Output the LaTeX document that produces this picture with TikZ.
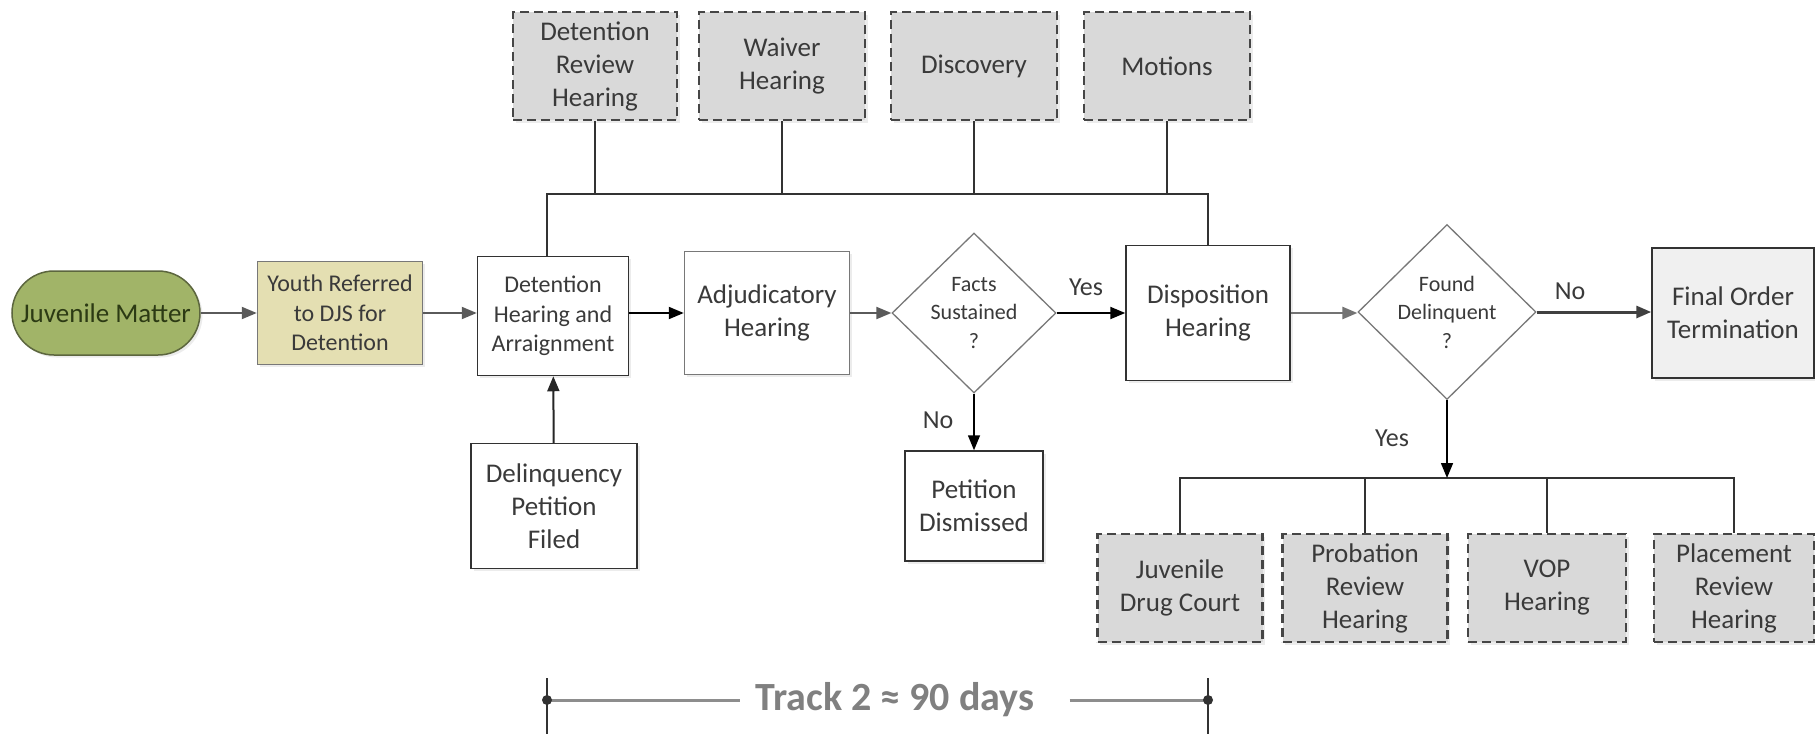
\documentclass[tikz,border=0pt]{standalone}
\usepackage{fontspec}
\setmainfont{Carlito}
\usepackage{tikz}
\usetikzlibrary{shapes.geometric}
\usetikzlibrary{arrows.meta}
\usetikzlibrary{shadows}

\definecolor{txtgray}{RGB}{58,58,58}
\definecolor{edgedark}{RGB}{50,50,50}
\definecolor{edgemid}{RGB}{120,120,120}
\definecolor{dashgray}{RGB}{70,70,70}
\definecolor{optfill}{RGB}{217,217,217}
\definecolor{finalfill}{RGB}{240,240,240}
\definecolor{youthfill}{RGB}{228,223,178}
\definecolor{juvfill}{RGB}{161,180,104}
\definecolor{juvedge}{RGB}{92,102,62}
\definecolor{juvtext}{RGB}{44,58,20}
\definecolor{arrowgray}{RGB}{90,90,90}
\definecolor{trackgray}{RGB}{128,128,128}

\tikzset{
	procbox/.style={draw=edgedark, line width=1.5pt, fill=white, text=txtgray, align=center, inner sep=0pt,
		font=\fontsize{27}{33}\selectfont, drop shadow={shadow xshift=2.5pt, shadow yshift=-2.5pt, opacity=.15}},
	optbox/.style={procbox, fill=optfill, draw=dashgray, line width=2.5pt, dash pattern=on 9pt off 5pt,
		minimum height=108pt},
	decbox/.style={draw=edgemid, line width=1.3pt, fill=white, diamond, inner sep=0pt},
	dectext/.style={text=txtgray, align=center, font=\fontsize{22}{28.5}\selectfont},
	flowarrow/.style={-{Triangle[length=15pt,width=12pt]}, line width=2pt, draw=arrowgray},
	busline/.style={line width=1.3pt, draw=edgedark},
	ansl/.style={text=txtgray, font=\fontsize{26}{30}\selectfont},
}

\begin{document}
\begin{tikzpicture}[x=1pt, y=-1pt]
				\useasboundingbox[fill=white] (0,0) rectangle (1815,734);
				% Main row:
				\node[procbox, fill=juvfill, draw=juvedge, text=juvtext, rounded corners=42pt,
					minimum width=188pt, minimum height=84pt] (juv) at (106,313) {Juvenile Matter};
				\node[procbox, fill=youthfill, draw=edgemid, minimum width=165pt, minimum height=103pt,
					font=\fontsize{24}{29.5}\selectfont] (youth) at (340,313) {Youth Referred\\to DJS for\\Detention};
				\node[procbox, minimum width=151pt, minimum height=119pt,
					font=\fontsize{24}{29.5}\selectfont] (det) at (553,316) {Detention\\Hearing and\\Arraignment};
				\node[procbox, draw=edgemid, minimum width=165pt, minimum height=123pt] (adj) at (767,313) {Adjudicatory\\Hearing};
				\node[decbox, minimum width=164pt, minimum height=160pt,
					label={[dectext]center:Facts\\Sustained\\?}] (facts) at (974,313) {};
				\node[procbox, minimum width=164pt, minimum height=135pt] (disp) at (1208,313) {Disposition\\Hearing};
				\node[decbox, minimum width=178pt, minimum height=175pt,
					label={[dectext]center:Found\\Delinquent\\?}] (found) at (1447,312) {};
				\node[procbox, fill=finalfill, minimum width=162pt, minimum height=130pt] (final) at (1733,313) {Final Order\\Termination};
				\node[procbox, minimum width=138pt, minimum height=110pt] (dism) at (974,506) {Petition\\Dismissed};
				\node[procbox, minimum width=166pt, minimum height=125pt] (filed) at (554,506) {Delinquency\\Petition\\Filed};

				% Hearings on top:
				\node[optbox, minimum width=164pt] (drh) at (595,66) {Detention\\Review\\Hearing};
				\node[optbox, minimum width=166pt] (waiver) at (782,66) {Waiver\\Hearing};
				\node[optbox, minimum width=166pt] (disc) at (974,66) {Discovery};
				\node[optbox, minimum width=166pt] (motions) at (1167,66) {Motions};

				% Hearings below:
				\node[optbox, minimum width=165pt] (jdc) at (1180,588) {Juvenile\\Drug Court};
				\node[optbox, minimum width=165pt] (prob) at (1365,588) {Probation\\Review\\Hearing};
				\node[optbox, minimum width=158pt] (vop) at (1547,588) {VOP\\Hearing};
				\node[optbox, minimum width=160pt] (place) at (1734,588) {Placement\\Review\\Hearing};

				% Paths and arrows:
				\draw[flowarrow] (juv) -- (youth);
				\draw[flowarrow] (youth.east) -- (youth.east -| det.west);
				\draw[flowarrow, draw=black] (adj.west -| det.east) -- (adj.west);
				\draw[flowarrow] (adj) -- (facts);
				\draw[flowarrow, draw=black] (facts) -- (disp);
				\draw[flowarrow, draw=black!55, line width=2.5pt] (disp.east) -- (disp.east -| found.west);
				\draw[flowarrow, draw=black!75, line width=3pt] (found.east) -- (found.east -| final.west);
				\draw[flowarrow, draw=black, line width=1.5pt] (facts) -- (dism);
				\draw[flowarrow, draw=black!85] (filed) -- (det);

				\coordinate (tb) at (0,194);
				\draw[busline] ([xshift=-6pt]det.north) |- (tb -| disp.north) -- (disp.north);
				\foreach \n in {drh,waiver,disc,motions}
					\draw[busline] (\n.south) -- (\n.south |- tb);

				\coordinate (bb) at (0,478);
				\draw[busline] (jdc.north) |- (bb -| place.north) -- (place.north);
				\foreach \n in {prob,vop}
					\draw[busline] (\n.north) -- (\n.north |- bb);
				\draw[flowarrow, draw=black, line width=1.5pt] (found.south) -- (found.south |- bb);

				\node[ansl] (yes1) at (1086,287) {Yes};
				\node[ansl] (no1) at (938,420) {No};
				\node[ansl] (no2) at (1570,291) {No};
				\node[ansl] (yes2) at (1392,438) {Yes};

				% Track 2 span:
				\coordinate (tl) at (547,700);
				\coordinate (tr) at (1208,700);
				\node[text=trackgray, inner sep=0pt, font=\fontsize{40}{44}\selectfont\bfseries] (track) at (895,700) {Track 2 ≈ 90 days};
				\draw[trackgray!90, line width=3pt] (tl) -- ([xshift=-15pt]track.west);
				\draw[trackgray!90, line width=3pt] ([xshift=35pt]track.east) -- (tr);
				\draw[edgedark, line width=1.3pt] ([yshift=22pt]tl) -- ([yshift=-34pt]tl);
				\draw[edgedark, line width=1.3pt] ([yshift=22pt]tr) -- ([yshift=-34pt]tr);
				\fill[edgedark] (tl) circle (5pt);
				\fill[edgedark] (tr) circle (5pt);
			\end{tikzpicture}
\end{document}
